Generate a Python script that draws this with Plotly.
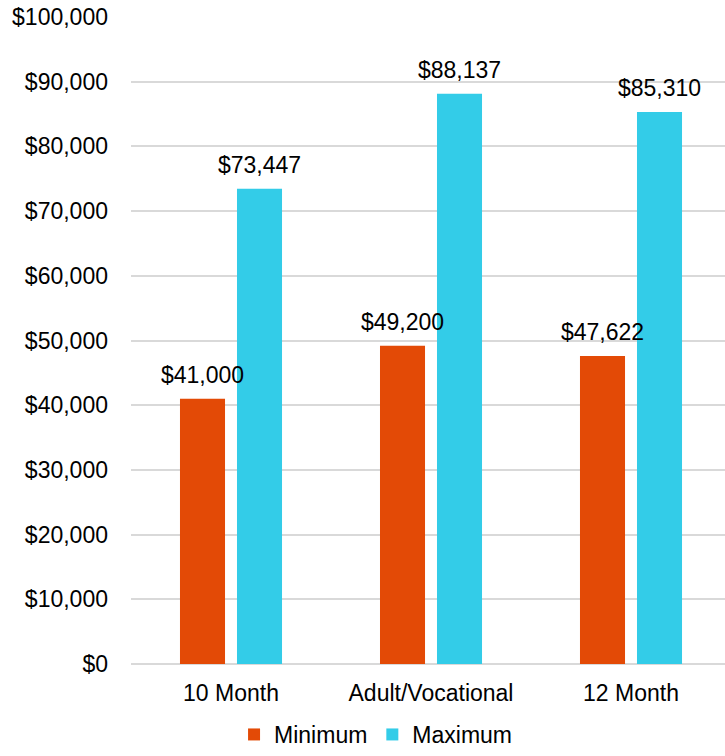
import plotly.graph_objects as go

categories = ["10 Month", "Adult/Vocational", "12 Month"]
minimum = [41000, 49200, 47622]
maximum = [73447, 88137, 85310]
series_names = ["Minimum", "Maximum"]
colors = ["#E34A06", "#33CCE8"]
y_tickvals = [0, 10000, 20000, 30000, 40000, 50000, 60000, 70000, 80000, 90000, 100000]
y_ticktext = [f"${v:,}" for v in y_tickvals]

FONT = "Liberation Sans, Arial, sans-serif"
FS = 23

fig = go.Figure()
for name, vals, col in zip(series_names, [minimum, maximum], colors):
    fig.add_trace(go.Bar(
        x=categories, y=vals, name=name,
        marker=dict(color=col, line=dict(width=0)),
    ))

# value labels above bars
offsets = [-28.5, 28.5]
for vals, off in zip([minimum, maximum], offsets):
    for c, v in zip(categories, vals):
        fig.add_annotation(
            x=c, y=v, text=f"${v:,.0f}", showarrow=False,
            xanchor="center", yanchor="bottom", xshift=off, yshift=9,
            font=dict(family=FONT, size=FS, color="#000000"),
        )

fig.update_layout(
    width=725, height=756,
    margin=dict(l=131, r=0, t=16, b=92, autoexpand=False),
    paper_bgcolor="white", plot_bgcolor="white",
    barmode="group", bargap=0.43, bargroupgap=0.21,
    font=dict(family=FONT, size=FS, color="#000000"),
    showlegend=True,
    legend=dict(
        orientation="h", xref="container", yref="container",
        x=0.518, xanchor="center", y=-0.009, yanchor="bottom",
        font=dict(family=FONT, size=FS, color="#000000"),
        itemwidth=30, traceorder="normal",
    ),
)
fig.update_xaxes(
    range=[-0.5, 2.47], showgrid=False, showline=False, zeroline=False,
    ticks="", ticklabelstandoff=13, automargin=False,
    tickfont=dict(family=FONT, size=FS, color="#000000"),
)
fig.update_yaxes(
    range=[0, 100155], tickvals=y_tickvals, ticktext=y_ticktext,
    showgrid=True, gridcolor="#D9D9D9", gridwidth=1.5,
    zeroline=True, zerolinecolor="#D9D9D9", zerolinewidth=1.5,
    showline=False, ticks="", ticklabelstandoff=22, automargin=False,
    ticklabeloverflow="allow",
    tickfont=dict(family=FONT, size=FS, color="#000000"),
)

fig.write_html(
    "out.html",
    config={"displayModeBar": False},
    post_script="document.body.style.margin='0';document.body.style.overflow='hidden';",
)
